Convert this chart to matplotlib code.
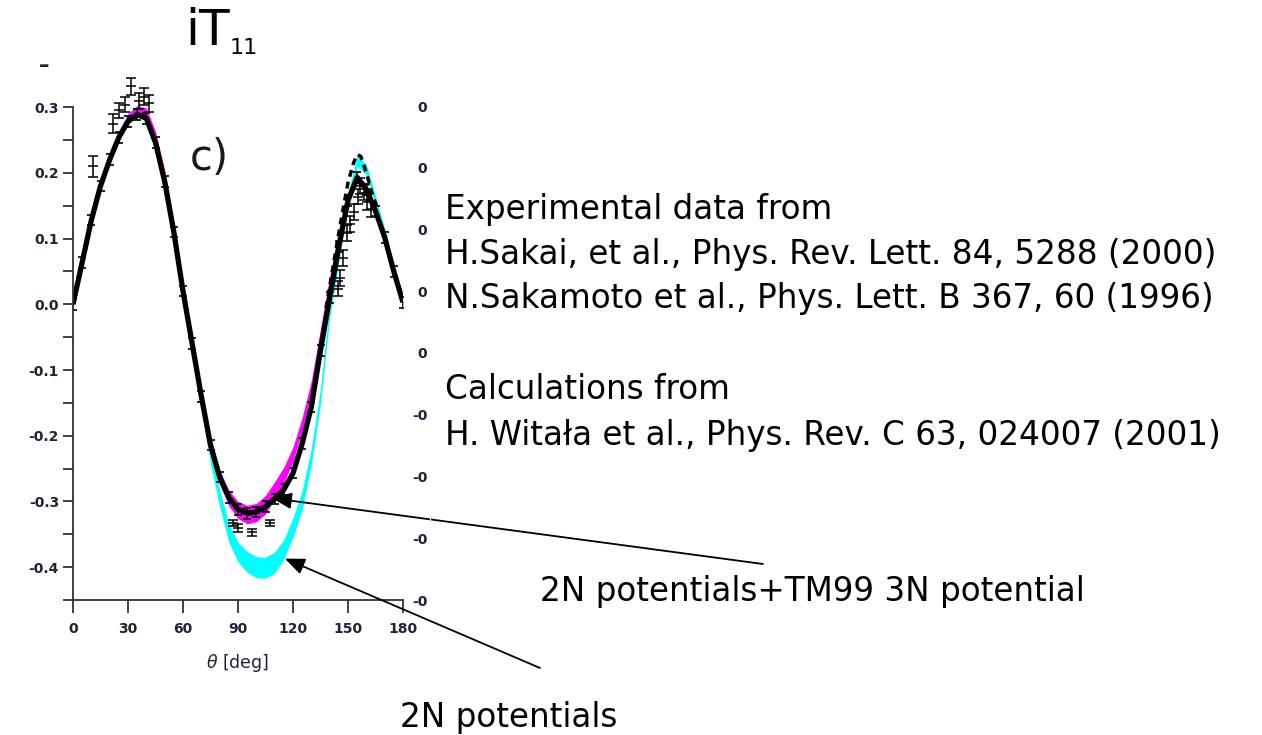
import matplotlib
matplotlib.use("Agg")
import matplotlib.pyplot as plt
import numpy as np

plt.rcParams['font.family'] = ['DejaVu Sans']

# theory bands (centre, half width) and data
theta = [0, 5, 10, 15, 20, 25, 30, 35, 40, 45, 50, 55, 60, 65, 70, 75, 80, 85, 90,
         95, 100, 105, 110, 115, 120, 125, 130, 135, 140, 145, 150, 155, 160, 165,
         170, 175, 180]

nn3n = [0, 0.066, 0.13, 0.182, 0.224, 0.258, 0.283, 0.295, 0.292, 0.256, 0.197, 0.118,
        0.025, -0.058, -0.138, -0.212, -0.263, -0.295, -0.313, -0.32, -0.317, -0.305,
        -0.283, -0.26, -0.228, -0.182, -0.125, -0.045, 0.035, 0.105, 0.162, 0.19,
        0.178, 0.142, 0.1, 0.05, 0.0]
nn3n_w = [0.003, 0.005, 0.006, 0.006, 0.006, 0.006, 0.007, 0.007, 0.007, 0.007, 0.007,
          0.007, 0.007, 0.007, 0.008, 0.009, 0.011, 0.012, 0.013, 0.014, 0.014, 0.014,
          0.013, 0.012, 0.011, 0.01, 0.009, 0.008, 0.007, 0.007, 0.006, 0.006, 0.006,
          0.006, 0.006, 0.005, 0.004]

nn = [0, 0.066, 0.13, 0.182, 0.224, 0.258, 0.284, 0.296, 0.29, 0.252, 0.192, 0.113,
      0.02, -0.065, -0.15, -0.23, -0.295, -0.348, -0.377, -0.392, -0.4, -0.401,
      -0.393, -0.373, -0.34, -0.298, -0.232, -0.14, -0.01, 0.075, 0.16, 0.218, 0.205,
      0.158, 0.108, 0.052, 0.0]
nn_w = [0.003, 0.005, 0.006, 0.006, 0.006, 0.006, 0.007, 0.007, 0.007, 0.007, 0.007,
        0.008, 0.008, 0.009, 0.01, 0.012, 0.013, 0.014, 0.015, 0.016, 0.016, 0.016,
        0.016, 0.015, 0.015, 0.014, 0.013, 0.012, 0.011, 0.01, 0.009, 0.008, 0.008,
        0.007, 0.007, 0.006, 0.004]

sakai = [0, 0.064, 0.128, 0.18, 0.22, 0.254, 0.278, 0.289, 0.283, 0.246, 0.187, 0.11,
         0.02, -0.06, -0.14, -0.214, -0.263, -0.294, -0.312, -0.318, -0.316, -0.308,
         -0.296, -0.282, -0.257, -0.212, -0.156, -0.07, 0.01, 0.088, 0.158, 0.193,
         0.175, 0.142, 0.102, 0.05, 0.003]

dash_theta = [138, 142, 146, 150, 153, 155, 157, 160, 163, 166]
dash_val = [-0.006, 0.06, 0.125, 0.185, 0.215, 0.228, 0.225, 0.2, 0.17, 0.146]

sak_theta = [10.7, 22, 25, 28.4, 31.6, 36, 38.7, 41.5, 87, 90, 97.6, 107.5,
             144.6, 145.6, 147.5, 149.5, 151, 153, 155.5, 156.5, 158.5, 160.5, 162.5]
sak_val = [0.21, 0.275, 0.295, 0.304, 0.332, 0.309, 0.316, 0.306, -0.333, -0.341,
           -0.347, -0.333, 0.024, 0.04, 0.07, 0.108, 0.122, 0.14, 0.164, 0.18, 0.17,
           0.155, 0.145]
sak_err = [0.016, 0.014, 0.012, 0.012, 0.013, 0.012, 0.013, 0.013, 0.005, 0.006,
           0.005, 0.005, 0.012, 0.012, 0.012, 0.012, 0.012, 0.012, 0.012, 0.012,
           0.012, 0.012, 0.012]

yticks = [-0.4, -0.3, -0.2, -0.1, 0.0, 0.1, 0.2, 0.3]
ytick_labels = ['-0.4', '-0.3', '-0.2', '-0.1', '0.0', '0.1', '0.2', '0.3']
right_labels = ['-0', '-0', '-0', '-0', '0', '0', '0', '0', '0']

W, H = 1262, 735
fig = plt.figure(figsize=(W / 100, H / 100), dpi=100)

ax = fig.add_axes([73 / W, 135 / H, 330 / W, 527 / H])
t = np.array(theta)
ax.fill_between(t, np.array(nn) - nn_w, np.array(nn) + nn_w, color='#00ffff', lw=0)
ax.fill_between(t, np.array(nn3n) - nn3n_w, np.array(nn3n) + nn3n_w, color='#ff00ff', lw=0)
ax.plot(dash_theta, dash_val, color='black', lw=2.5, ls=(0, (2, 1.5)))
ax.plot(theta, sakai, color='black', lw=3.8, solid_capstyle='butt')
ax.errorbar(theta, sakai, yerr=0.008, fmt='none', ecolor='black', elinewidth=1.2,
            capsize=3, capthick=1.2)
ax.errorbar(sak_theta, sak_val, yerr=sak_err, fmt='_', color='black', ms=7,
            elinewidth=1.1, capsize=3.5, capthick=1.1, mew=1.1)

ax.set_xlim(0, 180)
ax.set_ylim(-0.45, 0.352)
ax.spines['top'].set_visible(False)
ax.spines['right'].set_visible(False)
ax.spines['left'].set_bounds(-0.45, 0.3)
for s in ['left', 'bottom']:
    ax.spines[s].set_linewidth(1.3)
    ax.spines[s].set_color('#333333')

lab_color = '#1e2438'
ax.set_xticks(np.arange(0, 181, 30))
ax.set_yticks(yticks)
ax.set_yticks(np.arange(-0.45, 0.31, 0.05), minor=True)
ax.set_yticklabels(ytick_labels)
ax.tick_params(axis='both', which='both', direction='out', width=1.3, color='#333333',
               labelcolor=lab_color, labelsize=10)
ax.tick_params(axis='y', which='both', length=7, pad=3)
ax.tick_params(axis='x', length=9, pad=7)
for lab in ax.get_xticklabels() + ax.get_yticklabels():
    lab.set_fontweight('bold')
ax.set_xlabel(r'$\theta$ [deg]', fontsize=12.5, color=lab_color, labelpad=11)

# leftover tick labels from the neighbouring panel
axr = fig.add_axes([430 / W, 135 / H, 1 / W, 494 / H])
axr.set_ylim(0, 8)
axr.set_yticks(range(9))
axr.set_yticklabels(right_labels)
axr.set_xticks([])
for s in axr.spines.values():
    s.set_visible(False)
axr.tick_params(axis='y', length=0, pad=2, labelsize=10, labelcolor=lab_color)
for lab in axr.get_yticklabels():
    lab.set_fontweight('bold')

# arrows to the two bands
ax.annotate('', xy=(108.5, -0.295), xytext=(763, 171), textcoords='figure pixels',
            arrowprops=dict(arrowstyle='-|>,head_length=1.2,head_width=0.5',
                            color='black', lw=1.3, shrinkA=0, shrinkB=0))
ax.annotate('', xy=(115.6, -0.387), xytext=(540, 67), textcoords='figure pixels',
            arrowprops=dict(arrowstyle='-|>,head_length=1.2,head_width=0.5',
                            color='black', lw=1.3, shrinkA=0, shrinkB=0))

# texts
fig.text(185 / W, 1 - 31 / H, 'iT', fontsize=36, va='center', ha='left')
fig.text(230 / W, 1 - 48 / H, '11', fontsize=16, va='center', ha='left')
fig.text(190 / W, 1 - 158 / H, 'c)', fontsize=30, va='center', ha='left', color='#1a1a1a')
fig.text(39 / W, 1 - 66 / H, '–', fontsize=15, fontweight='bold', va='center', color='#222222')

tx = 445 / W
fs = 23.5
fig.text(tx, 1 - 210 / H, 'Experimental data from', fontsize=fs, va='center')
fig.text(tx, 1 - 254 / H, 'H.Sakai, et al., Phys. Rev. Lett. 84, 5288 (2000)', fontsize=fs, va='center')
fig.text(tx, 1 - 298 / H, 'N.Sakamoto et al., Phys. Lett. B 367, 60 (1996)', fontsize=fs, va='center')
fig.text(tx, 1 - 389 / H, 'Calculations from', fontsize=fs, va='center')
fig.text(tx, 1 - 436 / H, 'H. Witała et al., Phys. Rev. C 63, 024007 (2001)', fontsize=fs, va='center')
fig.text(540 / W, 1 - 592 / H, '2N potentials+TM99 3N potential', fontsize=fs, va='center')
fig.text(400 / W, 1 - 717 / H, '2N potentials', fontsize=fs, va='center')

fig.savefig('out.png', dpi=100)
